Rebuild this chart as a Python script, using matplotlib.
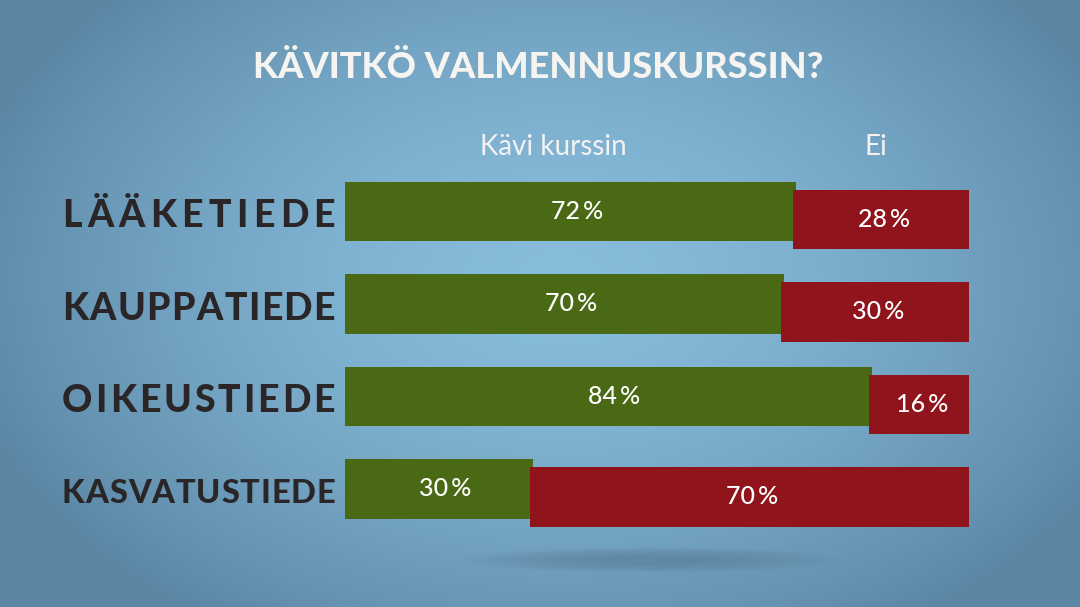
import numpy as np
import matplotlib
matplotlib.use('Agg')
import matplotlib.pyplot as plt
from matplotlib.patches import Ellipse

categories = ['LÄÄKETIEDE', 'KAUPPATIEDE', 'OIKEUSTIEDE', 'KASVATUSTIEDE']
kavi = np.array([72, 70, 84, 30])
ei = np.array([28, 30, 16, 70])
headers = ['Kävi kurssin', 'Ei']
title = 'KÄVITKÖ VALMENNUSKURSSIN?'

green = '#4a6914'
red = '#8f141b'
W, H = 1080, 607

fig = plt.figure(figsize=(W / 100, H / 100), dpi=100)

# background radial gradient
bg = fig.add_axes([0, 0, 1, 1])
yy, xx = np.mgrid[0:H, 0:W]
r = np.sqrt(((xx - 560) / 620.0) ** 2 + ((yy - 280) / 420.0) ** 2)
r = np.clip(r, 0, 1)
c_in = np.array([0x88, 0xbc, 0xdb]) / 255
c_out = np.array([0x5a, 0x86, 0xa4]) / 255
img = c_in[None, None, :] * (1 - r[..., None] ** 1.6) + c_out[None, None, :] * (r[..., None] ** 1.6)
bg.imshow(img, extent=[0, W, H, 0], aspect='auto')
bg.set_xlim(0, W)
bg.set_ylim(H, 0)
bg.axis('off')
# soft shadow under the chart
for k in range(16):
    bg.add_patch(Ellipse((650, 560), 380 - k * 18, 26 - k * 1.3, color='#56788f', alpha=0.035, lw=0))

ax = fig.add_axes([345 / W, 1 - 535.25 / H, 627 / W, 370 / H])
ax.patch.set_alpha(0)
n = len(categories)
y = np.arange(n)
bh = 0.64
off = 0.086
ax.barh(y, kavi, height=bh, color=green, zorder=2)
ax.barh(y + off, ei, left=kavi - 0.5, height=bh, color=red, zorder=3)
ax.set_xlim(0, 100)
ax.set_ylim(n - 0.5, -0.5)
ax.axis('off')

for i in range(n):
    ax.text(kavi[i] / 2 + 1, y[i], f'{kavi[i]}\u2009%', color='white', fontsize=18,
            family='Lato', weight='medium', ha='center', va='center', zorder=4)
    ax.text(kavi[i] + ei[i] / 2, y[i] + off, f'{ei[i]}\u2009%', color='white', fontsize=18,
            family='Lato', weight='medium', ha='center', va='center', zorder=4)

# category labels, letter spaced to fill a fixed width
fig.canvas.draw()
renderer = fig.canvas.get_renderer()
x0, x1 = (62 - 345) / 627, (335 - 345) / 627
tr = ax.get_yaxis_transform()
for i, cat in enumerate(categories):
    fs = 27
    while True:
        ts = [ax.text(0, y[i] + 0.05, ch, fontsize=fs, family='Lato', weight='black',
                      color='#2a2628', ha='left', va='center', transform=tr) for ch in cat]
        widths = [t.get_window_extent(renderer).width / 627 for t in ts]
        gap = (x1 - x0 - sum(widths)) / (len(cat) - 1)
        if gap * 627 >= 0.8 or fs <= 18:
            break
        for t in ts:
            t.remove()
        fs -= 0.5
    pos = x0
    for t, w in zip(ts, widths):
        t.set_x(pos)
        pos += w + gap

fig.text(538 / W, 1 - 68 / H, title, color='#f6f4f0', fontsize=26, family='Lato',
         weight='black', ha='center', va='center')
fig.text(553 / W, 1 - 147 / H, headers[0], color='#f2f2f2', fontsize=20, family='Lato',
         ha='center', va='center')
fig.text(876 / W, 1 - 147 / H, headers[1], color='#f2f2f2', fontsize=20, family='Lato',
         ha='center', va='center')

fig.savefig('out.png', dpi=100)
